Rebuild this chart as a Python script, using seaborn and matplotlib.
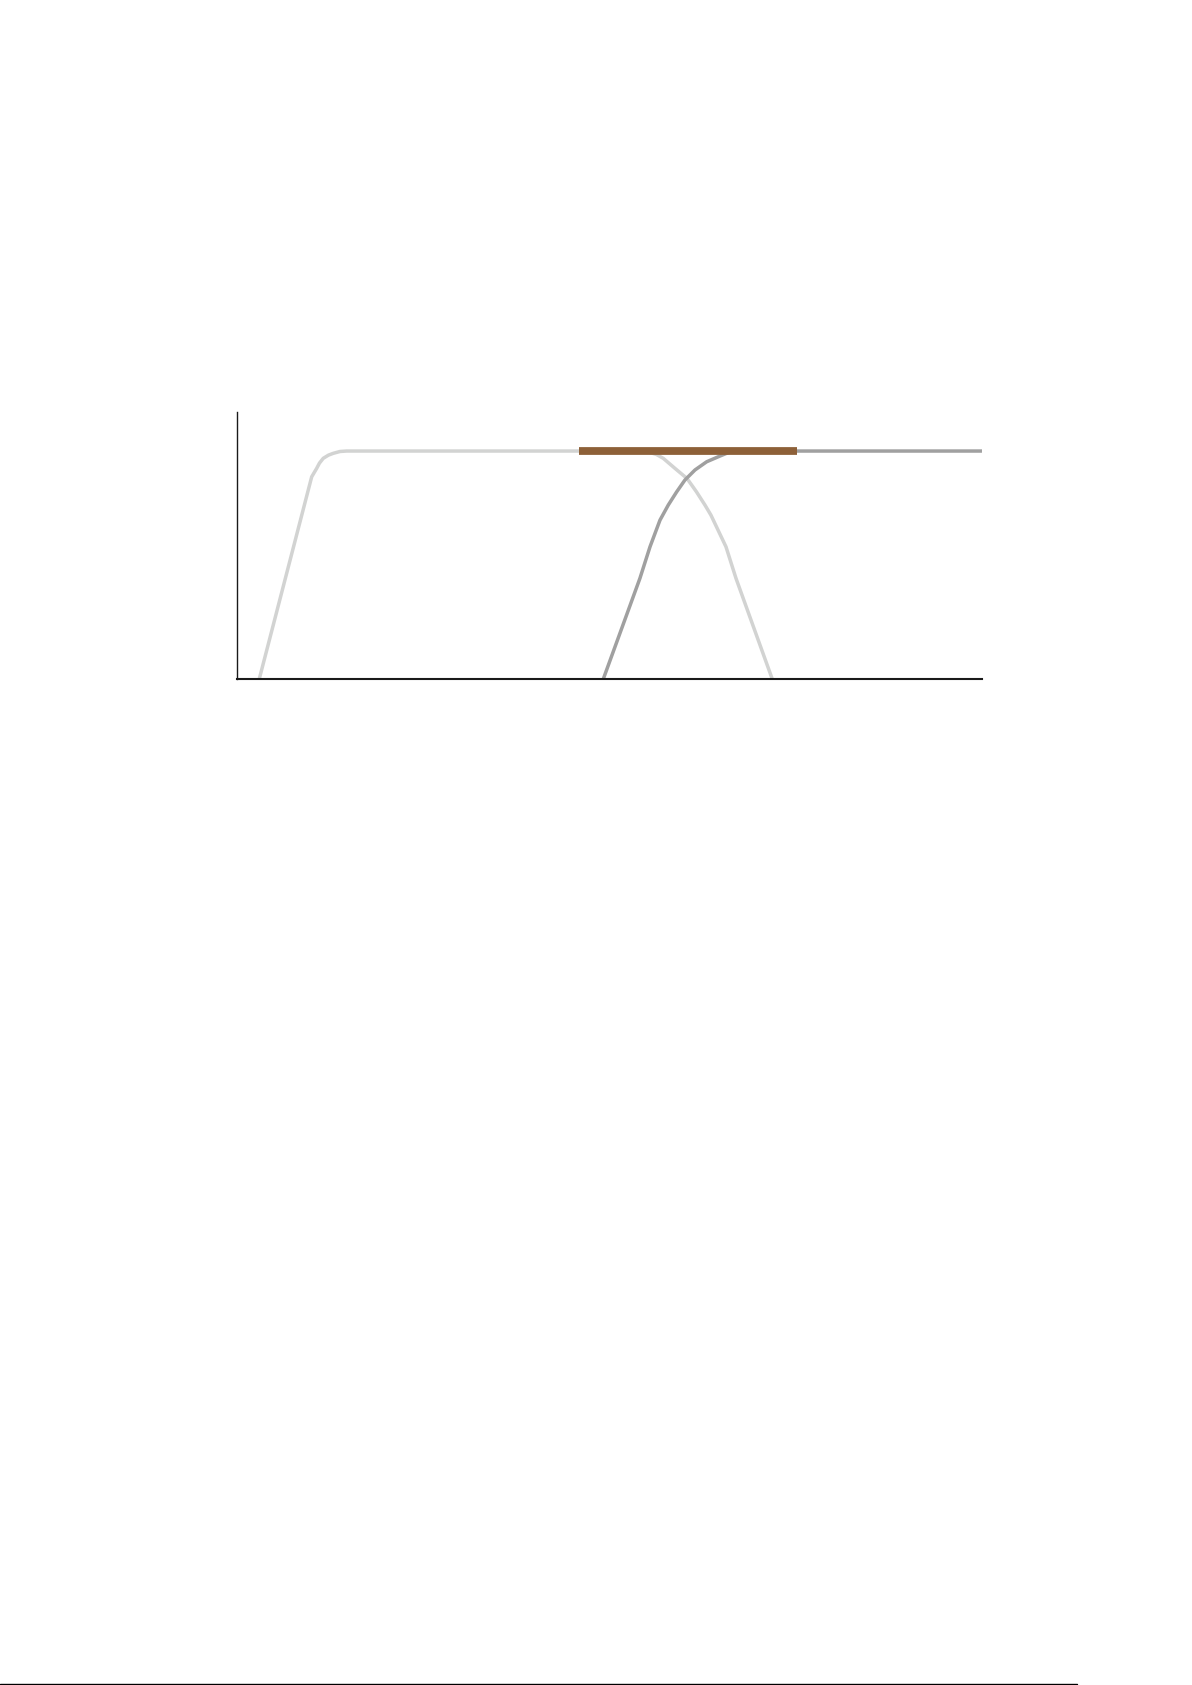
import numpy as np
import pandas as pd
import matplotlib
matplotlib.use("Agg")
import matplotlib.pyplot as plt
import seaborn as sns
from matplotlib.lines import Line2D

# ------------------------------------------------------------
# Daten (x in 0..100, y in 0..1)
# ------------------------------------------------------------
light_x = [2.99, 10.03, 10.70, 11.07, 11.58, 12.28, 12.93, 13.83, 14.72,
           54.2, 55.17, 56.3, 57.22, 58.79, 60.4, 61.68, 62.82, 63.62,
           65.64, 66.98, 71.85]
light_y = [0.0, 0.887, 0.924, 0.947, 0.968, 0.982, 0.990, 0.998, 1.0,
           1.0, 0.996, 0.985, 0.968, 0.924, 0.880, 0.821, 0.763, 0.719,
           0.580, 0.442, 0.0]

dark_x = [49.17, 54.09, 55.44, 56.78, 57.89, 59.02, 60.13, 61.48,
          63.05, 64.83, 66.17, 67.52, 100.0]
dark_y = [0.0, 0.442, 0.580, 0.697, 0.763, 0.821, 0.873, 0.917,
          0.953, 0.978, 0.996, 1.0, 1.0]

bar_x = [45.9, 75.13]
bar_y = [1.0, 1.0]

LIGHT = "#d2d3d2"
DARK = "#a0a0a0"
BROWN = "#8d6038"

sns.set_style("white")

fig = plt.figure(figsize=(11.92, 16.85), dpi=100)
ax = fig.add_axes([0.1988, 0.597, 0.625, 0.1586])

line_kw = dict(sort=False, estimator=None, legend=False, ax=ax)

sns.lineplot(x=light_x, y=light_y, color=LIGHT, linewidth=2.5,
             solid_capstyle="butt", solid_joinstyle="round", **line_kw)
sns.lineplot(x=dark_x, y=dark_y, color=DARK, linewidth=2.5,
             solid_capstyle="butt", solid_joinstyle="round", **line_kw)
sns.lineplot(x=bar_x, y=bar_y, color=BROWN, linewidth=5.6,
             solid_capstyle="butt", **line_kw)

ax.set_xlim(0, 100)
ax.set_ylim(0, 1.172)
ax.set_xticks([])
ax.set_yticks([])
ax.set_xlabel("")
ax.set_ylabel("")
sns.despine(ax=ax)
ax.spines["left"].set_color("#1a1a1a")
ax.spines["left"].set_linewidth(1.0)
ax.spines["bottom"].set_color("#1a1a1a")
ax.spines["bottom"].set_linewidth(1.5)

# Seitenlinie unten
fig.add_artist(Line2D([0, 0.9035], [0.0008, 0.0008], color="black",
                      linewidth=1.0, transform=fig.transFigure))

fig.savefig("out.png", dpi=100, facecolor="white")
plt.close(fig)
